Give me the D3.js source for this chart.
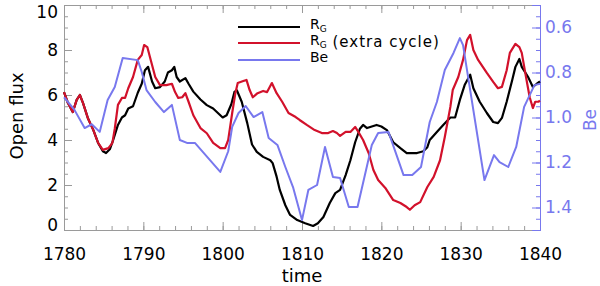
<!DOCTYPE html>
<html>
<head>
<meta charset="utf-8">
<script src="https://cdn.jsdelivr.net/npm/d3@7"></script>
<style>
  body { margin: 0; background: #fff; }
  svg text { font-family: "DejaVu Sans", sans-serif; }
</style>
</head>
<body>
<div id="chart"></div>
<script>

// R_G open flux (black)
var rgYears = [1780.0,1780.5,1781.1,1781.6,1782.0,1782.4,1783.0,1783.7,1784.3,1784.9,1785.3,1785.8,1786.2,1786.8,1787.3,1787.7,1788.1,1788.7,1789.3,1789.8,1790.2,1790.6,1791.1,1791.5,1792.1,1792.7,1793.1,1793.6,1793.9,1794.2,1794.6,1795.3,1795.7,1796.3,1797.2,1798.0,1798.8,1800.0,1800.5,1801.1,1801.5,1801.8,1802.4,1803.1,1803.7,1804.3,1805.1,1806.0,1806.3,1806.8,1807.2,1807.9,1808.5,1809.4,1810.4,1811.4,1812.0,1812.7,1813.5,1814.2,1814.8,1815.5,1816.1,1816.7,1817.3,1817.7,1818.2,1818.8,1819.4,1820.0,1820.7,1821.5,1822.4,1823.2,1824.5,1825.3,1825.8,1826.1,1827.0,1827.8,1828.7,1829.3,1829.9,1830.5,1831.2,1831.6,1832.4,1833.3,1834.1,1834.7,1835.2,1835.8,1836.5,1836.9,1837.4,1837.7,1838.5,1839.1,1839.6,1840.0];
var rgFlux = [6.13,5.64,5.24,5.78,6.0,5.64,4.98,4.44,3.87,3.5,3.42,3.6,4.0,4.67,5.0,5.1,5.4,5.5,6.1,6.5,7.1,7.25,6.6,6.3,6.35,6.6,7.0,7.1,7.25,6.8,6.6,6.75,6.5,6.15,5.8,5.55,5.4,5.0,5.1,5.6,6.15,6.2,5.7,4.75,3.8,3.47,3.25,3.1,2.97,2.37,1.78,1.1,0.67,0.44,0.3,0.18,0.3,0.58,1.2,1.64,1.78,2.44,3.1,3.9,4.5,4.67,4.53,4.6,4.67,4.6,4.44,3.9,3.64,3.42,3.42,3.5,3.68,4.0,4.36,4.67,5.0,5.0,5.78,6.44,6.9,6.3,5.7,5.2,4.8,4.75,4.98,5.7,6.67,7.25,7.6,7.25,6.8,6.36,6.5,6.6];

// R_G with extra cycle (red)
var rgxYears = [1780.0,1780.5,1781.1,1781.6,1782.0,1782.4,1783.0,1783.7,1784.3,1784.9,1785.6,1786.1,1786.4,1786.8,1787.3,1787.7,1788.1,1788.7,1789.3,1789.8,1790.1,1790.5,1791.1,1791.5,1792.1,1792.9,1793.6,1794.0,1794.4,1794.9,1795.3,1795.7,1796.3,1797.2,1798.0,1798.8,1799.7,1800.3,1800.7,1801.2,1801.6,1801.9,1802.6,1803.0,1803.4,1803.8,1804.4,1805.1,1805.6,1806.2,1806.8,1807.5,1808.3,1809.2,1809.7,1810.6,1811.6,1812.5,1813.3,1813.9,1814.4,1814.8,1815.5,1816.1,1816.7,1817.1,1817.7,1818.4,1819.0,1819.6,1820.5,1821.5,1822.4,1823.2,1823.6,1824.2,1824.9,1825.8,1826.6,1827.4,1828.0,1828.7,1829.0,1829.7,1830.3,1830.8,1831.2,1831.6,1832.2,1833.3,1834.1,1834.7,1835.2,1835.8,1836.2,1836.9,1837.4,1837.7,1838.3,1838.7,1839.1,1839.4,1839.8,1840.0];
var rgxFlux = [6.13,5.64,5.24,5.78,6.0,5.64,4.98,4.44,3.87,3.56,3.64,3.87,4.5,5.56,5.87,5.87,6.3,6.8,7.56,7.78,8.22,8.13,7.33,6.8,6.44,6.44,6.5,6.13,5.87,5.9,6.08,5.7,5.1,4.53,4.3,3.87,3.64,3.64,4.0,5.2,6.08,6.53,6.62,6.67,6.22,5.9,6.08,6.18,6.13,6.53,6.08,5.7,5.2,5.02,4.89,4.67,4.44,4.31,4.31,4.4,4.31,4.18,4.36,4.36,4.58,4.36,4.0,3.42,2.67,2.22,1.87,1.33,1.2,1.02,0.9,1.1,1.24,1.91,2.36,3.1,4.13,5.47,6.22,6.8,7.56,8.44,8.67,8.0,7.56,6.98,6.58,6.3,6.36,7.1,7.87,8.27,8.13,7.87,6.67,5.9,5.42,5.7,5.7,5.75];

// Be (blue, right axis)
var beYears = [1780.0,1781.3,1782.6,1783.5,1784.5,1785.5,1786.4,1787.4,1789.3,1789.8,1790.4,1791.5,1792.6,1793.6,1794.6,1795.5,1796.5,1799.7,1800.7,1801.2,1802.0,1802.9,1803.9,1805.0,1805.8,1806.9,1807.9,1808.9,1810.0,1810.8,1811.9,1812.9,1813.9,1814.8,1815.9,1817.0,1818.8,1819.6,1820.9,1822.8,1823.9,1825.0,1826.1,1827.0,1828.0,1829.1,1829.9,1830.3,1833.0,1834.2,1834.9,1836.0,1837.0,1838.0,1839.3,1840.0];
var beValues = [0.91,0.965,1.047,1.03,1.064,0.922,0.864,0.736,0.745,0.798,0.878,0.931,0.976,0.944,1.1,1.113,1.113,1.242,1.15,1.042,0.98,0.949,0.998,0.976,1.091,1.122,1.22,1.313,1.456,1.322,1.3,1.131,1.264,1.269,1.398,1.398,1.122,1.069,1.064,1.256,1.256,1.22,1.02,0.931,0.789,0.713,0.647,0.678,1.278,1.167,1.198,1.22,1.131,0.953,0.856,0.85];

var xTicks = [1780,1790,1800,1810,1820,1830,1840];
var yTicks = [0,2,4,6,8,10];
var beTicks = [0.6,0.8,1.0,1.2,1.4];

var black = "#000000", red = "#d2112b", blue = "#7878ee", frame = "#9a9a9a";

var width = 600, height = 286;
var plotL = 64, plotR = 540, plotT = 5, plotB = 230;

var svg = d3.select("#chart").append("svg")
	.attr("width", width)
	.attr("height", height);

var x = d3.scaleLinear().domain([1780, 1840]).range([plotL, plotR]);
var y = d3.scaleLinear().domain([0, 10]).range([plotB, plotT]);
var yBe = d3.scaleLinear().domain([0.5, 1.5]).range([plotT, plotB]);

function styleAxis(g, col) {
	g.select(".domain").attr("stroke", col).attr("stroke-width", 1);
	g.selectAll(".tick line").attr("stroke", col).attr("stroke-width", 1);
	g.selectAll("text").attr("font-size", 17).attr("fill", col == frame ? "#000" : col);
}

// bottom axis
var gxMinor = svg.append("g").attr("transform", "translate(0," + plotB + ")")
	.call(d3.axisBottom(x).tickValues(d3.range(1780, 1841, 2)).tickSize(-4).tickFormat(""));
styleAxis(gxMinor, frame);
var gx = svg.append("g").attr("transform", "translate(0," + plotB + ")")
	.call(d3.axisBottom(x).tickValues(xTicks).tickSize(-8).tickPadding(18).tickFormat(d3.format("d")));
styleAxis(gx, frame);

// top axis
var gtMinor = svg.append("g").attr("transform", "translate(0," + plotT + ")")
	.call(d3.axisTop(x).tickValues(d3.range(1780, 1841, 2)).tickSize(-4).tickFormat(""));
styleAxis(gtMinor, frame);
var gt = svg.append("g").attr("transform", "translate(0," + plotT + ")")
	.call(d3.axisTop(x).tickValues(xTicks).tickSize(-8).tickFormat(""));
styleAxis(gt, frame);

// left axis
var gyMinor = svg.append("g").attr("transform", "translate(" + plotL + ",0)")
	.call(d3.axisLeft(y).tickValues(d3.range(0, 10.01, 0.5)).tickSize(-4).tickFormat(""));
styleAxis(gyMinor, frame);
var gy = svg.append("g").attr("transform", "translate(" + plotL + ",0)")
	.call(d3.axisLeft(y).tickValues(yTicks).tickSize(-8).tickPadding(6).tickFormat(d3.format("d")));
styleAxis(gy, frame);
gy.selectAll(".tick text").attr("y", function(d) { return d == 0 ? -5 : (d == 10 ? 7 : 0); });

// right axis (Be)
var gbMinor = svg.append("g").attr("transform", "translate(" + plotR + ",0)")
	.call(d3.axisRight(yBe).tickValues(d3.range(0.5, 1.501, 0.05)).tickSize(-4).tickFormat(""));
styleAxis(gbMinor, blue);
var gb = svg.append("g").attr("transform", "translate(" + plotR + ",0)")
	.call(d3.axisRight(yBe).tickValues(beTicks).tickSize(-8).tickPadding(5).tickFormat(d3.format(".1f")));
styleAxis(gb, blue);

// axis titles
svg.append("text")
	.attr("transform", "translate(23," + 116 + ") rotate(-90)")
	.attr("text-anchor", "middle")
	.attr("font-size", 18)
	.text("Open flux");

svg.append("text")
	.attr("x", (plotL + plotR) / 2)
	.attr("y", 282)
	.attr("text-anchor", "middle")
	.attr("font-size", 18)
	.text("time");

svg.append("text")
	.attr("transform", "translate(596," + 120 + ") rotate(-90)")
	.attr("text-anchor", "middle")
	.attr("font-size", 17)
	.attr("fill", blue)
	.text("Be");

// series
var line = d3.line().x(function(d) { return x(d[0]); }).y(function(d) { return y(d[1]); });
var lineBe = d3.line().x(function(d) { return x(d[0]); }).y(function(d) { return yBe(d[1]); });

svg.append("path").datum(d3.zip(rgYears, rgFlux))
	.attr("d", line).attr("fill", "none").attr("stroke", black).attr("stroke-width", 2.2)
	.attr("stroke-linejoin", "round");
svg.append("path").datum(d3.zip(rgxYears, rgxFlux))
	.attr("d", line).attr("fill", "none").attr("stroke", red).attr("stroke-width", 2.2)
	.attr("stroke-linejoin", "round");
svg.append("path").datum(d3.zip(beYears, beValues))
	.attr("d", lineBe).attr("fill", "none").attr("stroke", blue).attr("stroke-width", 2)
	.attr("stroke-linejoin", "round");

// legend
var legend = [
	{ col: black, y: 27, main: "R", sub: "G", rest: "" },
	{ col: red, y: 43, main: "R", sub: "G", rest: " (extra cycle)" },
	{ col: blue, y: 60, main: "Be", sub: "", rest: "" }
];
legend.forEach(function(l) {
	svg.append("line")
		.attr("x1", 238).attr("x2", 300)
		.attr("y1", l.y).attr("y2", l.y)
		.attr("stroke", l.col).attr("stroke-width", 2);
	var t = svg.append("text")
		.attr("x", 310).attr("y", l.y + 2)
		.attr("font-size", 14);
	t.append("tspan").text(l.main);
	if (l.sub) {
		t.append("tspan").attr("font-size", 9).attr("dy", 3).text(l.sub);
		t.append("tspan").attr("dy", -1).attr("letter-spacing", 1).attr("font-size", 15).text(l.rest);
	}
});

</script>
</body>
</html>
